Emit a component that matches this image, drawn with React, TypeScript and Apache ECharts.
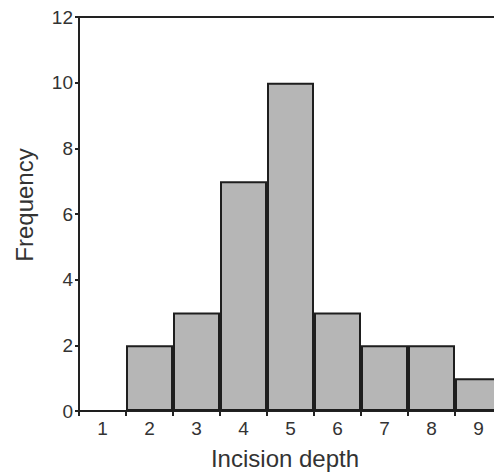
import React, { useEffect, useRef } from "react";
import * as echarts from "echarts";

const categories = ["1", "2", "3", "4", "5", "6", "7", "8", "9"];
const frequency = [0, 2, 3, 7, 10, 3, 2, 2, 1];
const yTicks = { min: 0, max: 12, interval: 2 };
const xTitle = "Incision depth";
const yTitle = "Frequency";

const FONT = "Liberation Sans";

export default function App() {
  const ref = useRef<HTMLDivElement>(null);
  useEffect(() => {
    document.documentElement.style.overflow = "hidden";
    document.body.style.margin = "0";
    document.body.style.overflow = "hidden";
    const chart = echarts.init(ref.current!, null, { renderer: "svg" });
    chart.setOption({
      animation: false,
      backgroundColor: "#ffffff",
      textStyle: { fontFamily: FONT, fontSize: 19, color: "#333333" },
      grid: {
        left: 79,
        top: 17,
        right: 2,
        bottom: 62,
        show: true,
        borderColor: "#222222",
        borderWidth: 2,
        backgroundColor: "transparent",
      },
      xAxis: {
        type: "category",
        data: categories,
        axisLine: { lineStyle: { color: "#222222", width: 2 } },
        axisTick: { show: true, length: 5, lineStyle: { color: "#222222", width: 2 } },
        axisLabel: { show: true, color: "#333333", fontSize: 19, fontFamily: FONT, margin: 8 },
        splitLine: { show: false },
      },
      yAxis: {
        type: "value",
        min: yTicks.min,
        max: yTicks.max,
        interval: yTicks.interval,
        axisLine: { show: true, lineStyle: { color: "#222222", width: 2 } },
        axisTick: { show: true, length: 4, lineStyle: { color: "#222222", width: 2 } },
        axisLabel: { show: true, color: "#333333", fontSize: 19, fontFamily: FONT, margin: 6 },
        splitLine: { show: false },
      },
      series: [
        {
          type: "bar",
          data: frequency,
          barCategoryGap: "0%",
          itemStyle: { color: "#b6b6b6", borderColor: "#1e1e1e", borderWidth: 2 },
        },
      ],
      graphic: [
        {
          type: "text",
          x: 285,
          y: 458,
          style: {
            text: xTitle,
            fill: "#333333",
            font: `24px ${FONT}`,
            align: "center",
            verticalAlign: "middle",
          },
        },
        {
          type: "text",
          x: 24,
          y: 205,
          rotation: Math.PI / 2,
          style: {
            text: yTitle,
            fill: "#333333",
            font: `24px ${FONT}`,
            align: "center",
            verticalAlign: "middle",
          },
        },
      ],
    });
    return () => chart.dispose();
  }, []);
  return <div ref={ref} style={{ width: 504, height: 473 }} />;
}
